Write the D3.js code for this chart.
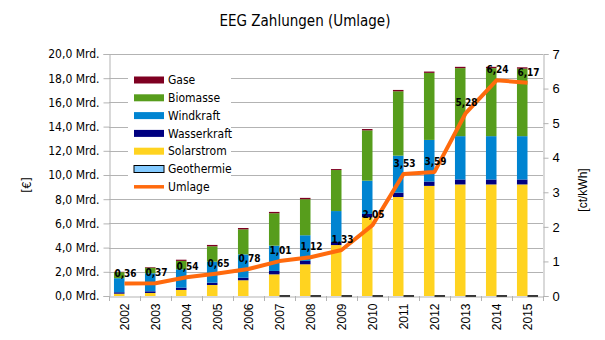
<!DOCTYPE html>
<html><head><meta charset="utf-8">
<script src="https://cdn.jsdelivr.net/npm/d3@7"></script>
<style>body{margin:0;background:#fff}svg{display:block}</style>
</head><body>
<script>
const years = ["2002","2003","2004","2005","2006","2007","2008","2009","2010","2011","2012","2013","2014","2015"];
const solarstrom = [0.19,0.25,0.50,0.91,1.30,1.79,2.62,4.21,6.50,8.18,9.10,9.22,9.22,9.22];
const wasserkraft = [0.12,0.14,0.19,0.19,0.21,0.28,0.28,0.25,0.28,0.36,0.36,0.41,0.41,0.41];
const windkraft = [1.16,1.49,1.52,1.74,1.93,2.09,2.12,2.56,2.75,3.06,3.44,3.58,3.58,3.58];
const biomasse = [0.50,0.46,0.69,1.27,2.07,2.68,2.98,3.39,4.16,5.32,5.54,5.62,5.62,5.58];
const gase = [0.03,0.05,0.10,0.11,0.11,0.11,0.11,0.08,0.11,0.11,0.11,0.11,0.11,0.11];
const geothermie = [null,null,null,null,null,0.003,0.003,0.003,0.003,0.003,0.003,0.003,0.003,0.003];
const umlage = [0.36,0.37,0.54,0.65,0.78,1.01,1.12,1.33,2.05,3.53,3.59,5.28,6.24,6.17];
const leftTicks = [0,2,4,6,8,10,12,14,16,18,20];
const rightTicks = [0,1,2,3,4,5,6,7];

const seriesNames = ["Solarstrom","Wasserkraft","Windkraft","Biomasse","Gase"];
const seriesData = {Solarstrom:solarstrom,Wasserkraft:wasserkraft,Windkraft:windkraft,Biomasse:biomasse,Gase:gase};
const colors = {Gase:"#7E0021",Biomasse:"#579D1C",Windkraft:"#0084D1",Wasserkraft:"#000080",Solarstrom:"#FFD320",Geothermie:"#83CAFF",Umlage:"#FF6A0D"};

const W=605,H=340;
const m={l:109,r:543,t:54,b:296};
const svg=d3.select("body").append("svg").attr("width",W).attr("height",H);
const font="'DejaVu Sans Condensed','DejaVu Sans',sans-serif";

const x=d3.scaleBand().domain(years).range([m.l,m.r]).padding(0);
const yL=d3.scaleLinear().domain([0,20]).range([m.b,m.t]);
const yR=d3.scaleLinear().domain([0,7]).range([m.b,m.t]);
const bw=x.bandwidth()*0.34;

// title
svg.append("text").attr("x",305).attr("y",26).attr("text-anchor","middle")
  .attr("font-family",font).attr("font-size",15).attr("fill","#000").text("EEG Zahlungen (Umlage)");

// gridlines
svg.append("g").selectAll("line").data(leftTicks.slice(1)).join("line")
  .attr("x1",m.l).attr("x2",m.r).attr("y1",d=>Math.round(yL(d))+0.5).attr("y2",d=>Math.round(yL(d))+0.5)
  .attr("stroke","#b3b3b3").attr("stroke-width",1);

// left axis
const fmt=d=>d3.format(".1f")(d).replace(".",",")+" Mrd.";
const gl=svg.append("g").attr("transform",`translate(${m.l+0.5},0)`)
  .call(d3.axisLeft(yL).tickValues(leftTicks).tickFormat(fmt).tickSize(6).tickPadding(4));
gl.select(".domain").attr("stroke","#b3b3b3");
gl.selectAll(".tick line").attr("stroke","#b3b3b3");
gl.selectAll("text").attr("font-family",font).attr("font-size",12).attr("fill","#000");

// right axis
const gr=svg.append("g").attr("transform",`translate(${m.r+0.5},0)`)
  .call(d3.axisRight(yR).tickValues(rightTicks).tickFormat(d3.format("d")).tickSize(5).tickPadding(4));
gr.select(".domain").attr("stroke","#b3b3b3");
gr.selectAll(".tick line").attr("stroke","#b3b3b3");
gr.selectAll("text").attr("font-family","'Liberation Sans',Arial,sans-serif").attr("font-size",13).attr("fill","#000");

// stacked bars
const table=years.map((y,i)=>{const o={year:y};seriesNames.forEach(s=>o[s]=seriesData[s][i]);return o;});
const stack=d3.stack().keys(seriesNames)(table);
svg.append("g").selectAll("g").data(stack).join("g").attr("fill",d=>colors[d.key])
  .selectAll("rect").data(d=>d).join("rect")
  .attr("x",d=>x(d.data.year)+x.bandwidth()/2-bw).attr("width",bw)
  .attr("y",d=>yL(d[1])).attr("height",d=>Math.max(0,yL(d[0])-yL(d[1])));

// bottom axis
const gb=svg.append("g").attr("transform",`translate(0,${m.b+0.5})`)
  .call(d3.axisBottom(x).tickSize(0).tickPadding(0));
gb.select(".domain").attr("stroke","#b3b3b3");
gb.selectAll(".tick line").remove();
svg.append("g").selectAll("line").data(d3.range(years.length+1)).join("line")
  .attr("x1",i=>Math.round(m.l+i*x.step())+0.5).attr("x2",i=>Math.round(m.l+i*x.step())+0.5)
  .attr("y1",m.b).attr("y2",m.b+5).attr("stroke","#b3b3b3");
gb.selectAll("text").attr("font-family","'Liberation Sans',Arial,sans-serif").attr("font-size",12).attr("fill","#000")
  .attr("transform","rotate(-90)").attr("text-anchor","end").attr("dx","-7").attr("dy","0.35em").attr("x",0).attr("y",0);
gb.selectAll(".tick").attr("transform",d=>`translate(${x(d)+x.bandwidth()/2},0)`);

// geothermie bars (near-zero, drawn as outlined sliver)
svg.append("g").selectAll("line").data(years.map((y,i)=>({year:y,v:geothermie[i]})).filter(d=>d.v!=null)).join("line")
  .attr("x1",d=>x(d.year)+x.bandwidth()/2).attr("x2",d=>x(d.year)+x.bandwidth()/2+bw)
  .attr("y1",d=>yL(d.v)).attr("y2",d=>yL(d.v))
  .attr("stroke","#000").attr("stroke-width",1.5);

// umlage line
const line=d3.line().x((d,i)=>x(years[i])+x.bandwidth()/2).y(d=>yR(d));
svg.append("path").datum(umlage).attr("d",line).attr("fill","none")
  .attr("stroke",colors.Umlage).attr("stroke-width",4).attr("stroke-linejoin","round");
svg.append("g").selectAll("text").data(umlage).join("text")
  .attr("x",(d,i)=>x(years[i])+x.bandwidth()/2+1).attr("y",d=>yR(d)-7)
  .attr("text-anchor","middle").attr("font-family",font).attr("font-size",10).attr("font-weight","bold")
  .attr("fill","#000").text(d=>d3.format(".2f")(d).replace(".",","));

// axis titles
svg.append("text").attr("transform","translate(31,185) rotate(-90)").attr("text-anchor","middle")
  .attr("font-family",font).attr("font-size",12).text("[€]");
svg.append("text").attr("transform","translate(587,190) rotate(-90)").attr("text-anchor","middle")
  .attr("font-family","'Liberation Sans',Arial,sans-serif").attr("font-size",12).text("[ct/kWh]");

// legend
const legItems=["Gase","Biomasse","Windkraft","Wasserkraft","Solarstrom","Geothermie","Umlage"];
const lg=svg.append("g");
lg.append("rect").attr("x",128).attr("y",69).attr("width",103).attr("height",127).attr("fill","#fff");
legItems.forEach((k,i)=>{
  const cy=80+i*17.8;
  if(k==="Umlage"){
    lg.append("line").attr("x1",134).attr("x2",164).attr("y1",cy).attr("y2",cy).attr("stroke",colors.Umlage).attr("stroke-width",3.5);
  } else {
    lg.append("rect").attr("x",134).attr("y",cy-3.5).attr("width",30).attr("height",7).attr("fill",colors[k])
      .attr("stroke",k==="Geothermie"?"#000":"none").attr("stroke-width",1);
  }
  lg.append("text").attr("x",168).attr("y",cy).attr("dy","0.35em").attr("font-family",font).attr("font-size",12).text(k);
});
</script>
</body></html>
